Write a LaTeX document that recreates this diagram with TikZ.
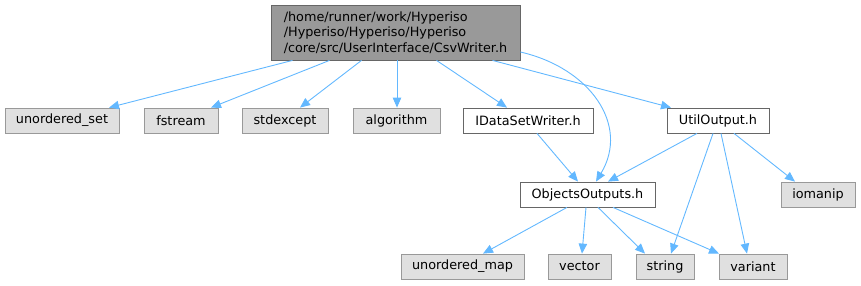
\documentclass[tikz,border=0pt]{standalone}
\usepackage{fontspec}
\setmainfont{DejaVu Sans}
\usepackage{tikz}
\usetikzlibrary{shapes,arrows,arrows.meta}

\definecolor{edgeblue}{HTML}{63B8FF}
\definecolor{sysfill}{HTML}{E0E0E0}
\definecolor{sysline}{HTML}{999999}
\definecolor{hdrfill}{HTML}{999999}
\definecolor{boxline}{HTML}{666666}

\tikzset{
  box/.style={draw, line width=0.8pt, inner sep=0pt, minimum height=25pt,
    font=\fontsize{12.8}{15.5}\selectfont},
  sysnode/.style={box, fill=sysfill, draw=sysline},
  filenode/.style={box, fill=white, draw=boxline},
  hdrnode/.style={box, fill=hdrfill, draw=boxline, align=left},
  incl/.style={->, draw=edgeblue, line width=0.9pt}
}

\begin{document}
\begin{tikzpicture}[x=1pt,y=-1pt,>={Triangle[length=10pt,width=8.5pt]}]
      \useasboundingbox (0,0) rectangle (861,285);

      % the header itself
      \node[hdrnode, minimum width=249pt, minimum height=55pt] (csv) at (395.5,32.5)
        {/home/runner/work/Hyperiso\\/Hyperiso/Hyperiso/Hyperiso\\/core/src/UserInterface/CsvWriter.h};

      % direct includes
      \node[sysnode, minimum width=114pt] (uset) at (62,120.5) {unordered\_set};
      \node[sysnode, minimum width=74pt] (fstream) at (181,120.5) {fstream};
      \node[sysnode, minimum width=86pt] (stdexcept) at (285,120.5) {stdexcept};
      \node[sysnode, minimum width=87pt] (algorithm) at (396.5,120.5) {algorithm};
      \node[filenode, minimum width=130pt] (idsw) at (528,120.5) {IDataSetWriter.h};
      \node[filenode, minimum width=102pt] (util) at (718,120.5) {UtilOutput.h};

      % second level
      \node[filenode, minimum width=135pt] (objout) at (587.5,194.5) {ObjectsOutputs.h};
      \node[sysnode, minimum width=74pt] (iomanip) at (818,194.5) {iomanip};

      % third level
      \node[sysnode, minimum width=123pt] (umap) at (462.5,266.5) {unordered\_map};
      \node[sysnode, minimum width=63pt] (vector) at (579.5,266.5) {vector};
      \node[sysnode, minimum width=58pt] (string) at (665,266.5) {string};
      \node[sysnode, minimum width=68pt] (variant) at (753,266.5) {variant};

      % edges out of CsvWriter.h
      \draw[incl] ([xshift=-103]csv.south) -- ([xshift=47]uset.north);
      \draw[incl] ([xshift=-66]csv.south) -- ([xshift=30]fstream.north);
      \draw[incl] ([xshift=-34]csv.south) -- ([xshift=15]stdexcept.north);
      \draw[incl] ([xshift=1.5]csv.south) -- ([xshift=0.5]algorithm.north);
      \draw[incl] ([xshift=41]csv.south) -- ([xshift=-21]idsw.north);
      \draw[incl] ([xshift=97]csv.south) -- ([xshift=-47]util.north);
      \draw[incl] ([yshift=-19.5]csv.east) .. controls (590,68) and (630,125) .. ([xshift=8.5]objout.north);

      % edges of the second row
      \draw[incl] ([xshift=9]idsw.south) -- ([xshift=-9.5]objout.north);
      \draw[incl] ([xshift=-21]util.south) -- ([xshift=20.5]objout.north);
      \draw[incl] ([xshift=-5]util.south) -- ([xshift=6]string.north);
      \draw[incl] ([xshift=3]util.south) -- ([xshift=-6]variant.north);
      \draw[incl] ([xshift=16]util.south) -- ([xshift=-23]iomanip.north);

      % edges out of ObjectsOutputs.h
      \draw[incl] ([xshift=-20.5]objout.south) -- ([xshift=20.5]umap.north);
      \draw[incl] ([xshift=-1.5]objout.south) -- ([xshift=2.5]vector.north);
      \draw[incl] ([xshift=10.5]objout.south) -- ([xshift=-20]string.north);
      \draw[incl] ([xshift=25.5]objout.south) -- ([xshift=-34]variant.north);
    \end{tikzpicture}
\end{document}
